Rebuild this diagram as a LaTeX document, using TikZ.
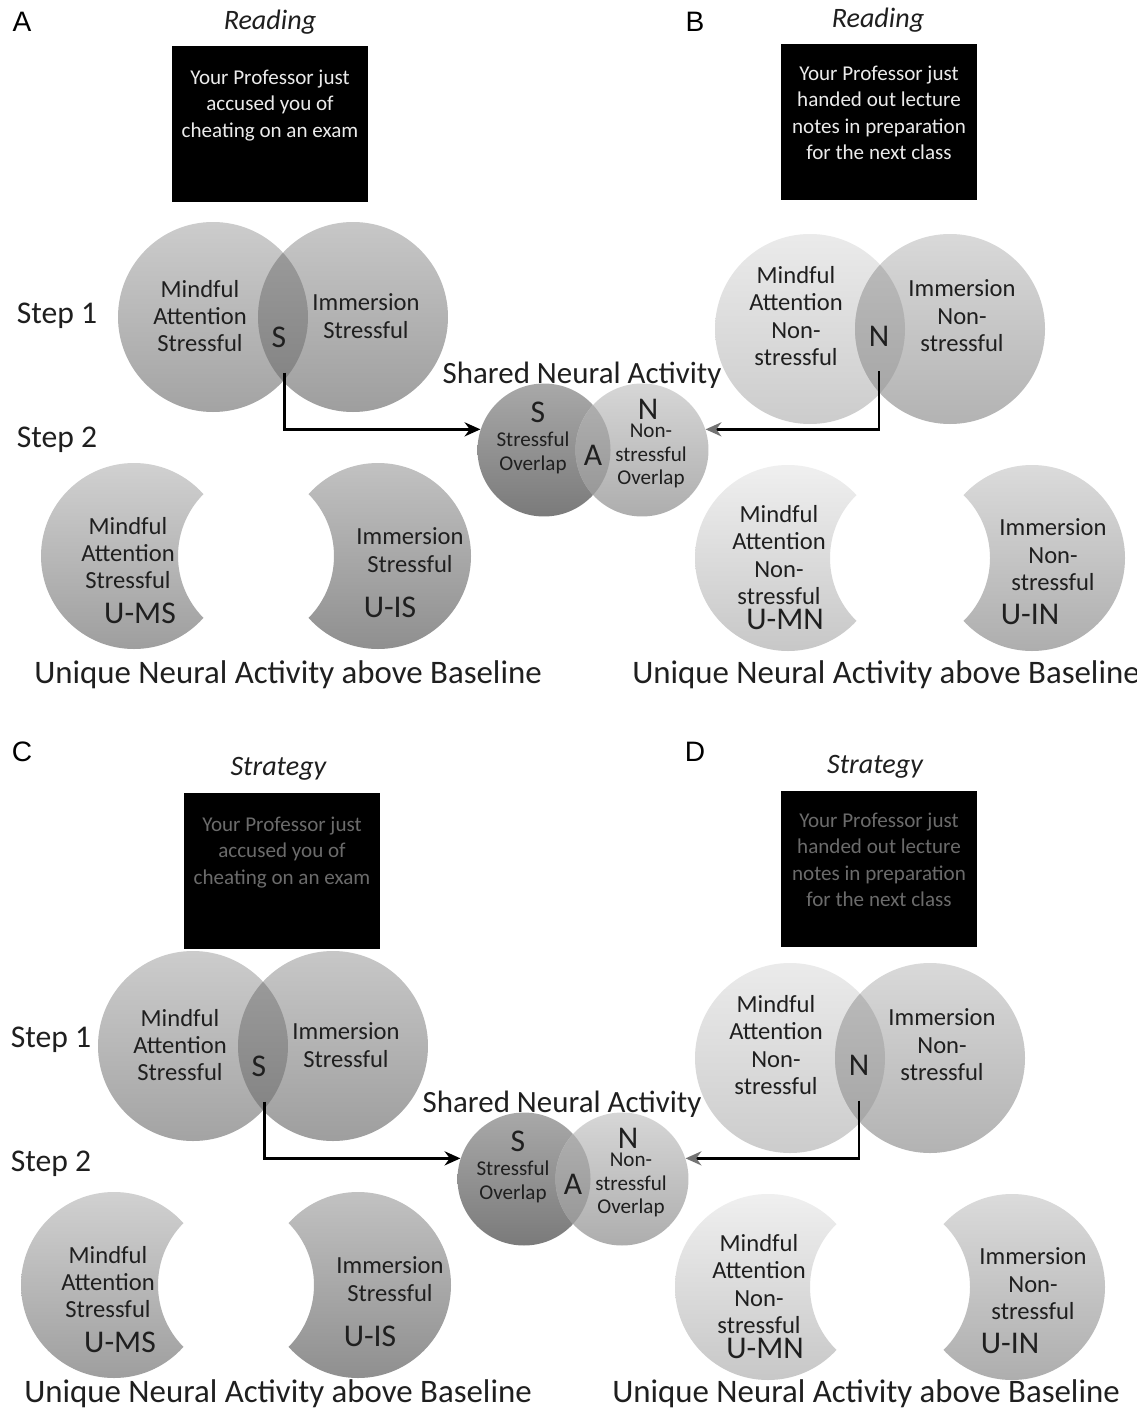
\documentclass[tikz,border=0pt]{standalone}
\usepackage{fontspec}
\setmainfont{Carlito}
\newfontfamily\panelfont{Liberation Sans}
\usetikzlibrary{positioning,arrows.meta}

\definecolor{ink}{gray}{0.12}

\tikzset{
  lbl/.style={font=\fontsize{14}{15.6}\selectfont, align=center, text=ink, inner sep=0pt},
  smalltxt/.style={font=\fontsize{12}{13.6}\selectfont, align=center, text=ink, inner sep=0pt},
  bigtxt/.style={font=\fontsize{18}{20}\selectfont, text=ink, inner sep=0pt},
  steplbl/.style={font=\fontsize{18}{20}\selectfont, text=ink, inner sep=0pt},
  headtxt/.style={font=\fontsize{16}{18}\selectfont\itshape, text=ink, inner sep=0pt},
  bigline/.style={font=\fontsize{17.6}{20}\selectfont, text=ink, inner sep=0pt},
  baseline/.style={font=\fontsize{18.7}{21}\selectfont, text=ink, inner sep=0pt},
  panellbl/.style={font=\panelfont\fontsize{16}{18}\selectfont, inner sep=0pt},
  scbox/.style={fill=black, minimum width=3.92cm, minimum height=3.12cm, inner sep=0pt},
  boxtxt/.style={font=\fontsize{12}{15}\selectfont, align=center, inner sep=0pt},
  link/.style={line width=1.4pt, -{Stealth[length=9pt,width=8pt]}},
  shared/.style={circle, minimum size=2.66cm, inner sep=0pt},
  % shadings
  discA/.style={top color=black!20, bottom color=black!36},
  discAr/.style={top color=black!22, bottom color=black!38},
  lensA/.style={top color=black!38, bottom color=black!50},
  discBL/.style={top color=black!8, bottom color=black!20},
  discBR/.style={top color=black!15, bottom color=black!30},
  lensB/.style={top color=black!26, bottom color=black!36},
  shS/.style={top color=black!34, bottom color=black!52},
  shN/.style={top color=black!16, bottom color=black!32},
  shlens/.style={top color=black!30, bottom color=black!42},
  cresAL/.style={top color=black!18, bottom color=black!38},
  cresAR/.style={top color=black!24, bottom color=black!44},
  cresBL/.style={top color=black!6, bottom color=black!22},
  cresBR/.style={top color=black!14, bottom color=black!32},
}

\begin{document}
\begin{tikzpicture}[x=0.02cm, y=-0.02cm]
\path[use as bounding box, fill=white] (0,0) rectangle (1136,1416);

\foreach \r/\dx/\dy/\bxl/\bxr/\by/\uy/\ly/\ttl/\tc/\la/\lb in
  {1/0/0/0/0/0/0/0/Reading/black!8/A/B, 2/-20/729/12/0/747/719/730/Strategy/black!58/C/D}
{
  % panel letters, titles and the black screens
  \node[panellbl] (lt\la) at (22,22+\ly) {\la};
  \node[panellbl] (lt\lb) at (695,22+\ly) {\lb};
  \node[headtxt] (ttlL\r) at (270+0.7*\bxl,22+\by) {\ttl};
  \node[headtxt] (ttlR\r) at (878-3*\r+3,20+\by) {\ttl};
  \node[scbox] (boxL\r) at (270+\bxl,124+\by) {};
  \node[scbox] (boxR\r) at (879+\bxr,122+\by) {};
  \node[boxtxt, text=\tc, below=0.48cm of boxL\r.north] (qL\r) {Your Professor just\\accused you of\\cheating on an exam};
  \node[boxtxt, text=\tc, below=0.44cm of boxR\r.north] (qR\r) {Your Professor just\\handed out lecture\\notes in preparation\\for the next class};

  \node[steplbl] (st1\r) at (57+0.3*\dx,316+\dy-5*\r+5) {Step 1};
  \node[steplbl] (st2\r) at (57+0.3*\dx,440+\dy-5*\r+5) {Step 2};

  \begin{scope}[shift={(\dx,\dy)}]
    % step 1, stressful
    \shade[discA] (213,317) circle (95);
    \shade[discAr] (353,317) circle (95);
    \begin{scope}
      \clip (213,317) circle (95);
      \shade[lensA] (353,317) circle (95);
    \end{scope}
    \node[lbl] (maL\r) at (200,316) {Mindful\\Attention\\Stressful};
    \node[lbl] (imL\r) at (366,316) {Immersion\\Stressful};
    \node[bigtxt] (sL\r) at (279,337) {S};

    % step 1, non-stressful
    \shade[discBL] (810,329) circle (95);
    \shade[discBR] (950,329) circle (95);
    \begin{scope}
      \clip (810,329) circle (95);
      \shade[lensB] (950,329) circle (95);
    \end{scope}
    \node[lbl] (maR\r) at (796,316) {Mindful\\Attention\\Non-\\stressful};
    \node[lbl] (imR\r) at (962,316) {Immersion\\Non-\\stressful};
    \node[bigtxt] (nR\r) at (879,336) {N};

    % shared activity
    \node[bigline] (shT\r) at (582,375) {Shared Neural Activity};
    \node[shared, shS] (shS\r) at (544,450) {};
    \node[shared, shN] (shN\r) at (642,450) {};
    \begin{scope}
      \clip (544,450) circle (66.5);
      \shade[shlens] (642,450) circle (66.5);
    \end{scope}
    \node[bigtxt] (sS\r) at (538,412) {S};
    \node[smalltxt] (sSt\r) at (533,453) {Stressful\\Overlap};
    \node[bigtxt] (aS\r) at (593,455) {A};
    \node[bigtxt] (nS\r) at (648,409) {N};
    \node[smalltxt] (nSt\r) at (651,456) {Non-\\stressful\\Overlap};

    \draw[link] ([xshift=3pt,yshift=-0.5cm]sL\r.south) |- (shS\r.162);
    \draw[link, -{Stealth[length=9pt,width=8pt,color=black!55]}] ([yshift=-0.5cm]nR\r.south) |- (shN\r.18);

    % step 2, unique activity
    \begin{scope}
      \clip (134,556) circle (93);
      \shade[cresAL, even odd rule] (40,462) rectangle (228,650) (266,556) circle (88);
    \end{scope}
    \begin{scope}
      \clip (378,556) circle (93);
      \shade[cresAR, even odd rule] (284,462) rectangle (472,650) (246,556) circle (88);
    \end{scope}
    \node[lbl] (umL\r) at (128,553) {Mindful\\Attention\\Stressful};
    \node[bigtxt] (umsL\r) at (140,613) {U-MS};
    \node[lbl] (uiL\r) at (410,550) {Immersion\\Stressful};
    \node[bigtxt] (uisL\r) at (390,607) {U-IS};

    \begin{scope}
      \clip (788,558) circle (93);
      \shade[cresBL, even odd rule] (694,464) rectangle (882,652) (918,558) circle (88);
    \end{scope}
    \begin{scope}
      \clip (1032,558) circle (93);
      \shade[cresBR, even odd rule] (938,464) rectangle (1126,652) (902,558) circle (88);
    \end{scope}
    \node[lbl] (umR\r) at (779,555) {Mindful\\Attention\\Non-\\stressful};
    \node[bigtxt] (umnR\r) at (785,619) {U-MN};
    \node[lbl] (uiR\r) at (1053,555) {Immersion\\Non-\\stressful};
    \node[bigtxt] (uinR\r) at (1030,614) {U-IN};
  \end{scope}

  \node[baseline] (unL\r) at (298-10*\r,675+\uy) {Unique Neural Activity above Baseline};
  \node[baseline] (unR\r) at (906-20*\r,675+\uy) {Unique Neural Activity above Baseline};
}
\end{tikzpicture}
\end{document}
